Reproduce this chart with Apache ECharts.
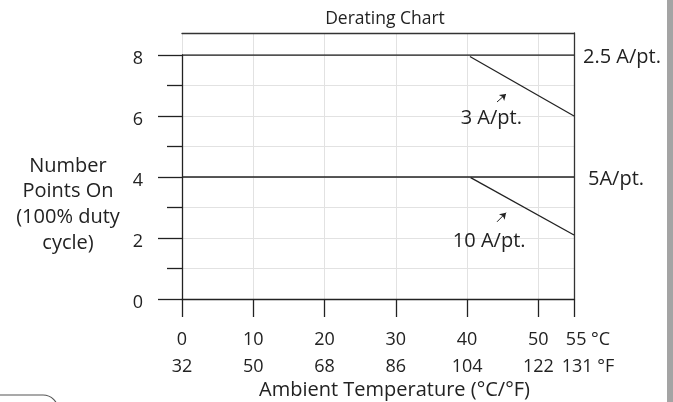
<!DOCTYPE html>
<html><head><meta charset="utf-8">
<script src="https://cdn.jsdelivr.net/npm/echarts@6/dist/echarts.min.js"></script>
<style>html,body{margin:0;padding:0;background:#fff;}#c{width:673px;height:402px;}</style>
</head><body><div id="c"></div>
<script>
// Data
const celsiusTicks = [0, 10, 20, 30, 40, 50, 55];
const fahrenheitTicks = [32, 50, 68, 86, 104, 122, 131];
const line25 = [[0, 8], [55, 8]];          // 2.5 A/pt.
const line3 = [[40.4, 7.95], [55, 6]];      // 3 A/pt.
const line5 = [[0, 4], [55, 4]];            // 5A/pt.
const line10 = [[40.5, 3.98], [55, 2.1]];   // 10 A/pt.
const label3Pos = [43.4, 5.94];
const arrow3 = [[44.2, 6.46], [45.46, 6.72]];
const label10Pos = [43.1, 1.88];
const arrow10 = [[44.2, 2.53], [45.46, 2.83]];

const FONT = 'Open Sans';
const FS = 20;      // words
const FD = 18;      // tick digits
const INK = '#222';
const chart = echarts.init(document.getElementById('c'), null, {renderer: 'canvas'});

function diag(name, data, labelPos, arrow) {
  return {
    type: 'line', name: name, xAxisIndex: 1, yAxisIndex: 1, data: data,
    symbol: 'none', lineStyle: {color: INK, width: 1.3}, silent: true, animation: false,
    markPoint: {
      symbol: 'rect', symbolSize: 0.1, itemStyle: {color: 'rgba(0,0,0,0)'},
      label: {show: true, position: 'inside', formatter: name, color: INK, fontFamily: FONT, fontSize: FS},
      data: [{coord: labelPos}]
    },
    markLine: {
      symbol: ['none', 'arrow'], symbolSize: 6, silent: true,
      lineStyle: {color: INK, width: 1, type: 'solid'}, label: {show: false},
      data: [[{coord: arrow[0]}, {coord: arrow[1]}]]
    }
  };
}
function horiz(name, data, dist) {
  return {
    type: 'line', name: name, xAxisIndex: 1, yAxisIndex: 1, data: data,
    symbol: 'none', lineStyle: {color: INK, width: 1.3}, silent: true, animation: false,
    endLabel: {show: true, formatter: name, distance: dist, offset: [0, 2], color: INK, fontFamily: FONT, fontSize: FS}
  };
}
function cfLabel(v) {
  const i = celsiusTicks.indexOf(v);
  return i < 0 ? null : v + '\n' + fahrenheitTicks[i];
}

chart.setOption({
  animation: false,
  title: [
    {text: 'Derating Chart', left: 380, top: 5, textAlign: 'center',
     textStyle: {fontFamily: FONT, fontSize: 17.5, fontWeight: 'normal', color: INK}},
    {text: 'Number\nPoints On\n(100% duty\ncycle)', left: 63, top: 148, textAlign: 'center',
     textStyle: {fontFamily: FONT, fontSize: FS, fontWeight: 'normal', color: INK, lineHeight: 25.7, align: 'center'}}
  ],
  grid: [
    {left: 182, top: 33, width: 392, height: 266, containLabel: false, outerBoundsMode: 'none'},
    {left: 182, top: 55, width: 392, height: 244, containLabel: false, outerBoundsMode: 'none'}
  ],
  xAxis: [
    {gridIndex: 0, type: 'value', min: 0, max: 55, interval: 10, position: 'top',
     axisLine: {show: true, onZero: false, lineStyle: {color: '#333', width: 1.3}}, axisTick: {show: false}, axisLabel: {show: false},
     splitLine: {show: true, lineStyle: {color: '#e2e2e2', width: 1}}},
    {gridIndex: 1, type: 'value', min: 0, max: 55, interval: 10, position: 'bottom',
     axisLine: {show: true, onZero: false, lineStyle: {color: INK, width: 1.3}},
     axisTick: {show: true, length: 18, lineStyle: {color: INK, width: 1.3}},
     splitLine: {show: false},
     axisLabel: {show: true, margin: 27, color: INK, fontFamily: FONT, fontSize: FD, lineHeight: 27,
       showMaxLabel: true, showMinLabel: true, hideOverlap: false,
       formatter: function (v) { return v === 55 ? '' : (cfLabel(v) || ''); }},
     name: 'Ambient Temperature (°C/°F)', nameLocation: 'middle', nameGap: 91, nameMoveOverlap: false,
     nameTextStyle: {fontFamily: FONT, fontSize: FS, color: INK, padding: [0, 0, 0, 33], verticalAlign: 'middle'}},
    {gridIndex: 1, type: 'value', min: 0, max: 55, interval: 10, position: 'bottom',
     axisLine: {show: false, onZero: false}, axisTick: {show: false}, splitLine: {show: false},
     axisLabel: {show: true, margin: 27, color: INK, fontFamily: FONT, fontSize: FD, lineHeight: 27,
       padding: [0, 0, 0, 28], showMaxLabel: true, showMinLabel: false, hideOverlap: false,
       formatter: function (v) {
         const i = celsiusTicks.indexOf(v);
         return v === 55 ? v + ' °C\n' + fahrenheitTicks[i] + ' °F' : '';
       }}}
  ],
  yAxis: [
    {gridIndex: 0, type: 'value', min: 0, max: 8.72, interval: 1, position: 'right',
     axisLine: {show: true, onZero: false, lineStyle: {color: '#333', width: 1.3}}, axisTick: {show: false}, axisLabel: {show: false},
     splitLine: {show: true, lineStyle: {color: '#e2e2e2', width: 1}}},
    {gridIndex: 1, type: 'value', min: 0, max: 8, interval: 2, position: 'left',
     axisLine: {show: true, onZero: false, lineStyle: {color: INK, width: 1.3}},
     axisTick: {show: true, length: 24, lineStyle: {color: INK, width: 1.3}},
     minorTick: {show: true, splitNumber: 2, length: 15, lineStyle: {color: INK, width: 1.3}},
     splitLine: {show: false},
     axisLabel: {show: true, margin: 39, color: INK, fontFamily: FONT, fontSize: FD,
       showMaxLabel: true, showMinLabel: true, hideOverlap: false,
       formatter: function (v) { return '{a|' + v + '}'; },
       rich: {a: {fontFamily: FONT, fontSize: FD, color: INK, padding: [8, 0, 0, 0]}}}}
  ],
  series: [
    horiz('2.5 A/pt.', line25, 9),
    diag('3 A/pt.', line3, label3Pos, arrow3),
    horiz('5A/pt.', line5, 14),
    diag('10 A/pt.', line10, label10Pos, arrow10)
  ],
  graphic: [
    {type: 'rect', left: 667, top: 0, shape: {width: 6, height: 402}, style: {fill: '#a4a4a4'}, silent: true},
    {type: 'rect', shape: {x: -20, y: 395, width: 78, height: 40, r: 15}, style: {fill: 'none', stroke: '#555', lineWidth: 1.2}, silent: true}
  ]
});
</script>
</body></html>
